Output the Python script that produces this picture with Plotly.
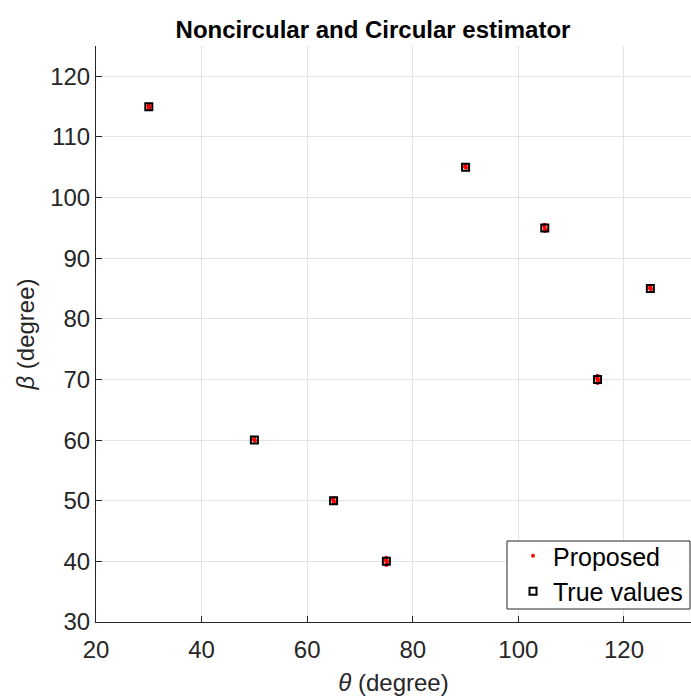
import plotly.graph_objects as go

# True values (theta, beta) in degrees
true_theta = [30, 50, 65, 75, 90, 105, 115, 125]
true_beta = [115, 60, 50, 40, 105, 95, 70, 85]

# Proposed estimates (clustered around true values)
prop_theta = [30.0, 29.9, 30.1, 30.0, 30.05,
              50.0, 49.9, 50.1, 50.0,
              65.0, 64.9, 65.1, 65.0, 65.0,
              75.0, 74.9, 75.1, 75.0, 75.0, 75.05,
              90.0, 89.9, 90.1, 90.0,
              105.0, 104.9, 105.1, 105.0, 105.0,
              115.0, 114.9, 115.1, 115.0, 115.0, 115.05,
              125.0, 124.9, 125.1, 125.0]
prop_beta = [115.0, 115.1, 114.9, 114.7, 115.2,
             60.0, 60.1, 59.9, 60.2,
             50.0, 50.2, 49.8, 50.4, 49.6,
             40.0, 40.3, 39.7, 40.6, 39.4, 40.1,
             105.0, 105.1, 104.9, 105.2,
             95.0, 95.3, 94.7, 95.5, 94.5,
             70.0, 70.3, 69.7, 70.6, 69.4, 70.1,
             85.0, 85.1, 84.9, 85.2]

x_ticks = [20, 40, 60, 80, 100, 120]
y_ticks = [30, 40, 50, 60, 70, 80, 90, 100, 110, 120]

fig = go.Figure()
fig.add_trace(go.Scatter(
    x=prop_theta, y=prop_beta, mode="markers", name="Proposed",
    marker=dict(color="red", size=4, symbol="circle", line=dict(width=0)),
))
fig.add_trace(go.Scatter(
    x=true_theta, y=true_beta, mode="markers", name="True values",
    marker=dict(color="rgba(0,0,0,0)", size=7, symbol="square",
                line=dict(color="black", width=2)),
))

font_family = "Liberation Sans, Arial, sans-serif"
axis_common = dict(
    showgrid=True, gridcolor="#e3e3e3", gridwidth=1,
    showline=True, linecolor="#262626", linewidth=1, mirror=False,
    ticks="inside", ticklen=6, tickcolor="#262626", tickwidth=1,
    zeroline=False,
    tickfont=dict(family=font_family, size=24, color="#262626"),
)

# legend box frame (MATLAB style)
fig.add_shape(type="rect", xref="paper", yref="paper",
              x0=(507 - 96) / 595, x1=(690 - 96) / 595,
              y0=(622 - 609) / 576, y1=(622 - 541) / 576,
              fillcolor="white", line=dict(color="#262626", width=1),
              layer="above")

fig.update_layout(
    width=691, height=700,
    margin=dict(l=96, r=0, t=46, b=78),
    paper_bgcolor="white", plot_bgcolor="white",
    title=dict(text="<b>Noncircular and Circular estimator</b>",
               x=(373 - 96) / 595, xref="paper", xanchor="center",
               y=1 - 30 / 700, yref="container", yanchor="middle",
               font=dict(family=font_family, size=24, color="black")),
    xaxis=dict(range=[20, 132.7], tickvals=x_ticks, ticklabelstandoff=6,
               title=dict(text="<i>θ</i> (degree)", standoff=12,
                          font=dict(family=font_family, size=24, color="#262626")),
               **axis_common),
    yaxis=dict(range=[30, 125], tickvals=y_ticks,
               title=dict(text="<i>β</i> (degree)", standoff=8,
                          font=dict(family=font_family, size=24, color="#262626")),
               **axis_common),
    legend=dict(x=(513 - 96) / 595, xanchor="left",
                y=(622 - 533) / 576, yanchor="top",
                bgcolor="rgba(0,0,0,0)", borderwidth=0,
                font=dict(family=font_family, size=25, color="black"),
                itemsizing="trace", tracegroupgap=0),
    showlegend=True,
)

fig.write_html("out.html")
